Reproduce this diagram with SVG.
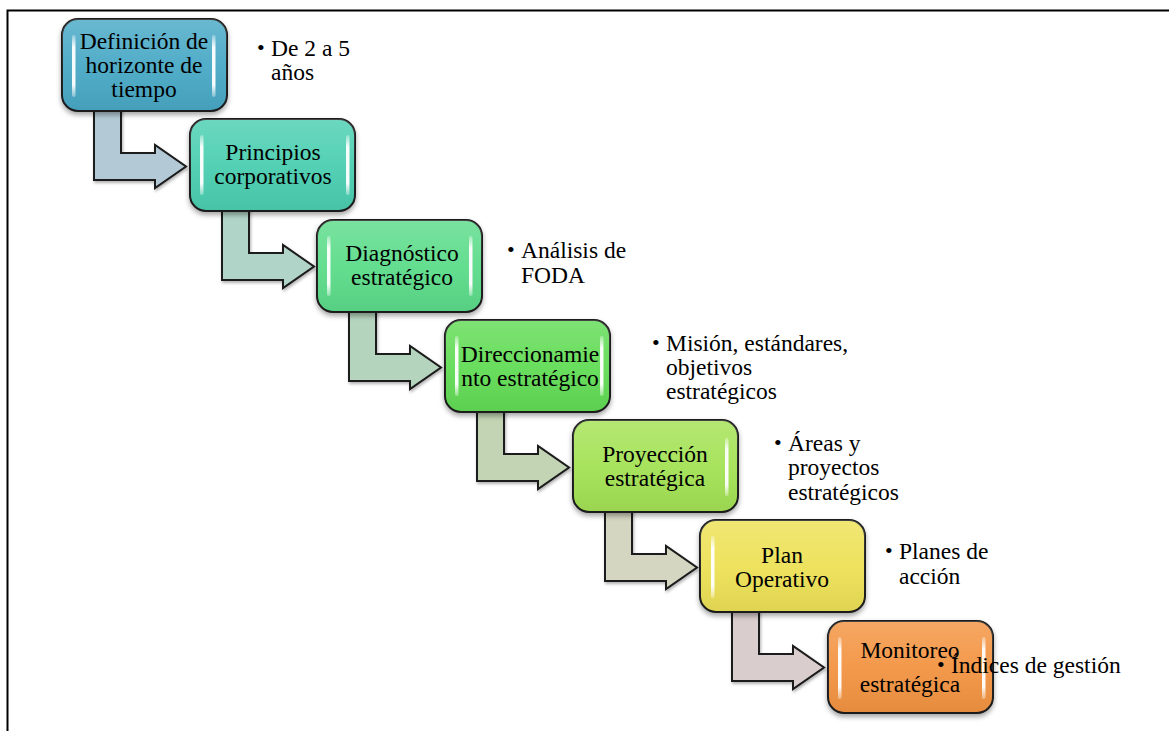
<svg xmlns="http://www.w3.org/2000/svg" xmlns:xlink="http://www.w3.org/1999/xlink" width="1169" height="731" viewBox="0 0 1169 731">
  <style>
    .box { stroke: #1a1a1a; stroke-width: 2; filter: url(#shadow); }
    .gloss { fill: url(#glossGrad); stroke: none; }
    .bar { fill: url(#barGrad); stroke: none; }
    .arrow { stroke: #1a1a1a; stroke-width: 2; stroke-linejoin: miter; filter: url(#ashadow); }
    .lbl { font-family: "Liberation Serif", "Times New Roman", serif; font-size: 23.5px; fill: #000; text-anchor: middle; }
    .note { font-family: "Liberation Serif", "Times New Roman", serif; font-size: 23.5px; fill: #000; }
    .bul { font-family: "Liberation Serif", "Times New Roman", serif; font-size: 22px; fill: #000; }
  </style>
  <defs>
    <filter id="shadow" x="-10%" y="-10%" width="120%" height="130%">
      <feDropShadow dx="0" dy="3" stdDeviation="2.5" flood-color="#000" flood-opacity="0.35"/>
    </filter>
    <filter id="ashadow" x="-10%" y="-10%" width="130%" height="130%">
      <feDropShadow dx="1" dy="2" stdDeviation="1.5" flood-color="#000" flood-opacity="0.3"/>
    </filter>
    <linearGradient id="glossGrad" x1="0" y1="0" x2="0" y2="1">
      <stop offset="0" stop-color="#fff" stop-opacity="0.18"/>
      <stop offset="0.5" stop-color="#fff" stop-opacity="0.05"/>
      <stop offset="1" stop-color="#000" stop-opacity="0.06"/>
    </linearGradient>
    <linearGradient id="barGrad" x1="0" y1="0" x2="0" y2="1">
      <stop offset="0" stop-color="#fff" stop-opacity="0.3"/>
      <stop offset="0.2" stop-color="#fff" stop-opacity="0.95"/>
      <stop offset="0.8" stop-color="#fff" stop-opacity="0.95"/>
      <stop offset="1" stop-color="#fff" stop-opacity="0.3"/>
    </linearGradient>
    <path id="arr" d="M32,85 H59 V134 H93 V126 L124,147.5 L93,169 V161 H32 Z"/>
    <rect id="bx" x="0" y="0" width="165" height="92" rx="16" ry="16"/>
  </defs>

  <rect x="0" y="0" width="1169" height="731" fill="#fff"/>

  <!-- frame -->
  <path d="M7.5,731 V10.5 H1169" fill="none" stroke="#000" stroke-width="2"/>

  <!-- connectors -->
  <g id="connectors">
    <use xlink:href="#arr" href="#arr" x="62" y="19" class="arrow" fill="#b3cad6"/>
    <use xlink:href="#arr" href="#arr" x="190" y="119" class="arrow" fill="#b1d4c8"/>
    <use xlink:href="#arr" href="#arr" x="317" y="220" class="arrow" fill="#b5d4be"/>
    <use xlink:href="#arr" href="#arr" x="445" y="320" class="arrow" fill="#c2d4b4"/>
    <use xlink:href="#arr" href="#arr" x="573" y="420" class="arrow" fill="#d5d6c1"/>
    <use xlink:href="#arr" href="#arr" x="700" y="520" class="arrow" fill="#dacdcd"/>
  </g>

  <!-- nodes -->
  <g id="node-1" transform="translate(62,19)">
    <use xlink:href="#bx" href="#bx" class="box" fill="#4aa9c6"/>
    <use xlink:href="#bx" href="#bx" class="gloss"/>
    <rect class="bar" x="10" y="16" width="3.5" height="62" rx="1.7"/>
    <rect class="bar" x="150" y="16" width="3.5" height="62" rx="1.7"/>
    <text class="lbl" x="82" y="29.5">Definición de</text>
    <text class="lbl" x="82" y="54">horizonte de</text>
    <text class="lbl" x="82" y="78">tiempo</text>
  </g>

  <g id="node-2" transform="translate(190,119)">
    <use xlink:href="#bx" href="#bx" class="box" fill="#4ccfb1"/>
    <use xlink:href="#bx" href="#bx" class="gloss"/>
    <rect class="bar" x="10" y="16" width="3.5" height="60" rx="1.7"/>
    <rect class="bar" x="156" y="16" width="3.5" height="60" rx="1.7"/>
    <text class="lbl" x="83" y="41">Principios</text>
    <text class="lbl" x="83" y="65">corporativos</text>
  </g>

  <g id="node-3" transform="translate(317,220)">
    <use xlink:href="#bx" href="#bx" class="box" fill="#5bdc8a"/>
    <use xlink:href="#bx" href="#bx" class="gloss"/>
    <rect class="bar" x="10" y="16" width="3.5" height="60" rx="1.7"/>
    <rect class="bar" x="152" y="16" width="3.5" height="60" rx="1.7"/>
    <text class="lbl" x="85" y="41">Diagnóstico</text>
    <text class="lbl" x="85" y="65">estratégico</text>
  </g>

  <g id="node-4" transform="translate(445,320)">
    <use xlink:href="#bx" href="#bx" class="box" fill="#62dc56"/>
    <use xlink:href="#bx" href="#bx" class="gloss"/>
    <rect class="bar" x="10" y="16" width="3.5" height="60" rx="1.7"/>
    <rect class="bar" x="155" y="16" width="3.5" height="60" rx="1.7"/>
    <text class="lbl" x="85" y="42">Direccionamie</text>
    <text class="lbl" x="85" y="66">nto estratégico</text>
  </g>

  <g id="node-5" transform="translate(573,420)">
    <use xlink:href="#bx" href="#bx" class="box" fill="#a4e255"/>
    <use xlink:href="#bx" href="#bx" class="gloss"/>
    <rect class="bar" x="152" y="18" width="3.5" height="58" rx="1.7"/>
    <text class="lbl" x="82" y="42">Proyección</text>
    <text class="lbl" x="82" y="66">estratégica</text>
  </g>

  <g id="node-6" transform="translate(700,520)">
    <use xlink:href="#bx" href="#bx" class="box" fill="#ede156"/>
    <use xlink:href="#bx" href="#bx" class="gloss"/>
    <rect class="bar" x="11" y="16" width="3.5" height="62" rx="1.7"/>
    <text class="lbl" x="82" y="43">Plan</text>
    <text class="lbl" x="82" y="67">Operativo</text>
  </g>

  <g id="node-7" transform="translate(828,621)">
    <use xlink:href="#bx" href="#bx" class="box" fill="#f39443"/>
    <use xlink:href="#bx" href="#bx" class="gloss"/>
    <rect class="bar" x="10" y="16" width="3.5" height="62" rx="1.7"/>
    <rect class="bar" x="154" y="16" width="3.5" height="62" rx="1.7"/>
    <text class="lbl" x="82" y="37">Monitoreo</text>
    <text class="lbl" x="82" y="71">estratégica</text>
  </g>

  <!-- annotations -->
  <g id="note-1">
    <text class="bul" x="257" y="55">•</text>
    <text class="note" x="271" y="56">De 2 a 5</text>
    <text class="note" x="271" y="80">años</text>
  </g>
  <g id="note-3">
    <text class="bul" x="507" y="257">•</text>
    <text class="note" x="521" y="258">Análisis de</text>
    <text class="note" x="521" y="283">FODA</text>
  </g>
  <g id="note-4">
    <text class="bul" x="652" y="350">•</text>
    <text class="note" x="666" y="351">Misión, estándares,</text>
    <text class="note" x="666" y="375">objetivos</text>
    <text class="note" x="666" y="399">estratégicos</text>
  </g>
  <g id="note-5">
    <text class="bul" x="774" y="450">•</text>
    <text class="note" x="788" y="451">Áreas y</text>
    <text class="note" x="788" y="475">proyectos</text>
    <text class="note" x="788" y="500">estratégicos</text>
  </g>
  <g id="note-6">
    <text class="bul" x="885" y="558">•</text>
    <text class="note" x="899" y="559">Planes de</text>
    <text class="note" x="899" y="584">acción</text>
  </g>
  <g id="note-7">
    <text class="bul" x="937" y="672">•</text>
    <text class="note" x="951" y="673">Índices de gestión</text>
  </g>
</svg>
